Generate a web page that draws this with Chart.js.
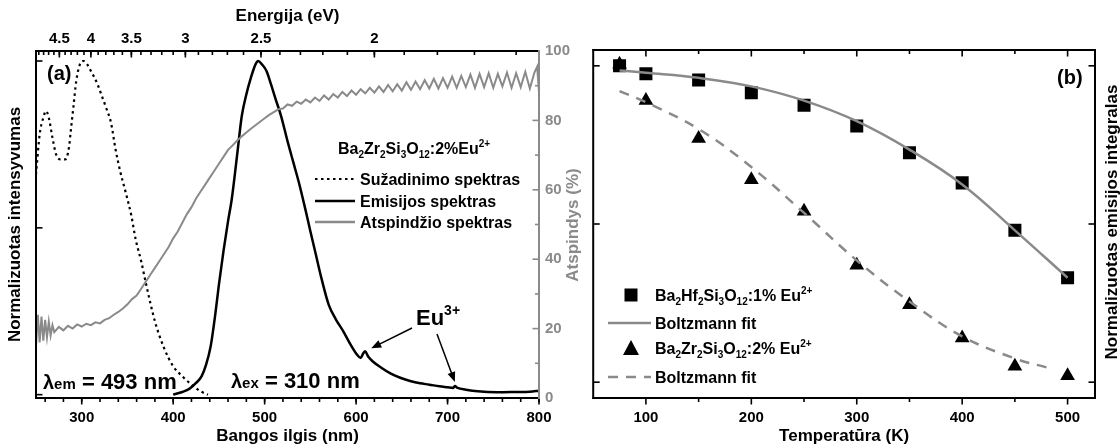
<!DOCTYPE html>
<html>
<head>
<meta charset="utf-8">
<script src="https://cdn.jsdelivr.net/npm/chart.js@4.4.1/dist/chart.umd.min.js"></script>
<style>
  body { margin: 0; background: #fff; }
  #wrap { position: relative; width: 1120px; height: 448px; }
  canvas { position: absolute; top: 0; }
  #spectra { left: 0; }
  #quench { left: 584px; }
</style>
</head>
<body>
<div id="wrap">
  <canvas id="spectra" width="584" height="448"></canvas>
  <canvas id="quench" width="536" height="448"></canvas>
</div>
<script>
// (a) sužadinimo / emisijos / atspindžio spektrai
const excWl = [250, 254, 258, 261, 264, 268, 272, 277, 282, 286, 288, 291, 294, 298, 302, 306, 310, 314, 318, 322, 326, 332, 337, 342, 348, 354, 359, 365, 370, 380, 390, 400, 410, 420, 430, 438];
const excInt = [0.66, 0.78, 0.83, 0.85, 0.83, 0.77, 0.72, 0.705, 0.705, 0.74, 0.79, 0.865, 0.94, 0.99, 1.0, 0.99, 0.97, 0.95, 0.925, 0.895, 0.865, 0.815, 0.735, 0.67, 0.607, 0.54, 0.465, 0.4, 0.336, 0.22, 0.14, 0.085, 0.055, 0.03, 0.01, 0.0];

const emWl = [400, 410, 418, 425, 431, 436, 441, 446, 450, 455, 460, 464, 470, 475, 480, 485, 490, 493, 497, 502, 507, 512, 518, 525, 532, 538, 545, 550, 556, 562, 570, 578, 586, 594, 601, 605, 608, 610, 613, 618, 628, 638, 649, 660, 670, 680, 691, 700, 706, 708, 711, 720, 733, 754, 775, 790, 800];
const emInt = [0.0, 0.008, 0.018, 0.035, 0.055, 0.09, 0.145, 0.24, 0.33, 0.43, 0.52, 0.585, 0.72, 0.835, 0.9, 0.95, 0.99, 1.0, 0.99, 0.97, 0.93, 0.886, 0.835, 0.76, 0.69, 0.63, 0.55, 0.49, 0.42, 0.35, 0.27, 0.225, 0.19, 0.15, 0.12, 0.11, 0.125, 0.13, 0.115, 0.1, 0.08, 0.063, 0.05, 0.04, 0.034, 0.03, 0.025, 0.022, 0.02, 0.026, 0.02, 0.015, 0.01, 0.007, 0.008, 0.009, 0.012];

const reflWl = [250, 252, 254, 256, 258, 260, 262, 264, 266, 268, 270, 275, 280, 285, 290, 295, 300, 305, 310, 315, 320, 325, 330, 335, 340, 345, 350, 355, 360, 365, 370, 375, 380, 385, 390, 395, 400, 405, 410, 415, 420, 425, 430, 435, 440, 445, 450, 455, 460, 465, 470, 475, 480, 485, 490, 495, 500, 505, 510, 515, 520, 525, 530, 535, 540, 545, 550, 555, 560, 565, 570, 575, 580, 585, 590, 595, 600, 605, 610, 615, 620, 625, 630, 635, 640, 645, 650, 655, 660, 665, 670, 675, 680, 685, 690, 695, 700, 705, 710, 715, 720, 725, 730, 735, 740, 745, 750, 755, 760, 765, 770, 775, 780, 785, 790, 795, 798, 800];
const reflVal = [15, 24, 16, 23.5, 16.5, 22.5, 17.5, 22, 18, 21, 19, 20.5, 19.5, 20.8, 20, 21.2, 20.6, 21.4, 21, 21.8, 21.5, 22.5, 23, 24, 24.8, 25.8, 27, 28.5, 29.5, 31.5, 33.5, 35.5, 37.5, 39.5, 41.5, 43.5, 46, 48, 50.5, 53, 55, 57.5, 59.5, 61.5, 63.5, 65.5, 67.5, 69.5, 71.5, 72.8, 74.2, 75.4, 76.5, 77.6, 78.6, 79.6, 80.6, 81.6, 82.4, 83.2, 83.4, 84.6, 84.2, 85.4, 84.8, 86, 85.2, 86.6, 85.6, 87.2, 86, 87.6, 86.6, 88.2, 87, 88.6, 87.4, 89, 87.8, 89.4, 88, 89.8, 88.2, 90.2, 88.4, 90.4, 88.6, 91, 88.8, 91.2, 89, 91.6, 89.2, 92, 89.2, 92.2, 89.4, 92.6, 89.4, 92.8, 89.6, 93.2, 89.4, 93.4, 89.6, 93.6, 89.4, 93.4, 89.8, 93.8, 89.4, 93.6, 89.6, 94, 89.2, 93.8, 95.5, 88];

const wlLabels = [300, 400, 500, 600, 700, 800];
const energyLabels = [4.5, 4, 3.5, 3, 2.5, 2];
const reflLabels = [0, 20, 40, 60, 80, 100];

// (b) integralinės emisijos priklausomybė nuo temperatūros
const temps = [75, 100, 150, 200, 250, 300, 350, 400, 450, 500];
const hfVals = [1.0, 0.975, 0.955, 0.915, 0.875, 0.81, 0.725, 0.63, 0.48, 0.33];
const zrVals = [1.005, 0.89, 0.77, 0.64, 0.54, 0.37, 0.245, 0.14, 0.05, 0.02];
const hfFitT = [75, 100, 150, 200, 250, 300, 350, 400, 450, 500];
const hfFit = [0.985, 0.978, 0.962, 0.935, 0.89, 0.825, 0.735, 0.625, 0.48, 0.33];
const zrFitT = [75, 100, 150, 200, 250, 300, 350, 400, 450, 482];
const zrFit = [0.92, 0.885, 0.8, 0.68, 0.535, 0.385, 0.255, 0.145, 0.075, 0.045];
const tempLabels = [100, 200, 300, 400, 500];

const gray = '#8a8a8a';
const FONT = '"Liberation Sans", Arial, sans-serif';
Chart.defaults.font.family = FONT;
Chart.defaults.font.weight = 'bold';
Chart.defaults.color = '#000';

function pts(xs, ys) {
  return xs.map((x, i) => ({ x, y: ys[i] }));
}

function text(ctx, s, x, base, size, color) {
  ctx.font = `bold ${size}px ${FONT}`;
  ctx.fillStyle = color || '#000';
  ctx.textAlign = 'left';
  ctx.textBaseline = 'alphabetic';
  ctx.fillText(s, x, base);
  return x + ctx.measureText(s).width;
}

// "Ba_2Zr_2Si_3O_{12}" -> apatinis / viršutinis indeksas
function rich(ctx, str, x, base, size, color) {
  const re = /([_^])(\{[^}]*\}|.)|([^_^]+)/g;
  let m, cx = x;
  while ((m = re.exec(str))) {
    if (m[3]) {
      cx = text(ctx, m[3], cx, base, size, color);
    } else {
      const dy = m[1] === '_' ? size * 0.28 : -size * 0.45;
      cx = text(ctx, m[2].replace(/[{}]/g, ''), cx, base + dy, Math.round(size * 0.62), color);
    }
  }
  return cx;
}

function vtext(ctx, s, cx, cy, size, color) {
  ctx.save();
  ctx.translate(cx, cy);
  ctx.rotate(-Math.PI / 2);
  ctx.font = `bold ${size}px ${FONT}`;
  ctx.fillStyle = color || '#000';
  ctx.textAlign = 'center';
  ctx.textBaseline = 'middle';
  ctx.fillText(s, 0, 0);
  ctx.restore();
}

function arrow(ctx, x1, y1, x2, y2) {
  const a = Math.atan2(y2 - y1, x2 - x1);
  ctx.strokeStyle = '#000';
  ctx.fillStyle = '#000';
  ctx.lineWidth = 1.5;
  ctx.beginPath();
  ctx.moveTo(x1, y1);
  ctx.lineTo(x2 - 7 * Math.cos(a), y2 - 7 * Math.sin(a));
  ctx.stroke();
  ctx.beginPath();
  ctx.moveTo(x2, y2);
  ctx.lineTo(x2 - 10 * Math.cos(a) + 4 * Math.sin(a), y2 - 10 * Math.sin(a) - 4 * Math.cos(a));
  ctx.lineTo(x2 - 10 * Math.cos(a) - 4 * Math.sin(a), y2 - 10 * Math.sin(a) + 4 * Math.cos(a));
  ctx.closePath();
  ctx.fill();
}

// rėmelis ir padalos (į vidų arba į išorę)
function framePlugin(sides, ticks) {
  return {
    id: 'frame',
    afterDatasetsDraw(chart) {
      const ctx = chart.ctx, a = chart.chartArea;
      ctx.save();
      ctx.lineWidth = 1.6;
      ticks.forEach(t => {
        const s = chart.scales[t.scale];
        ctx.strokeStyle = t.color || '#000';
        const draw = (v, len) => {
          const p = s.getPixelForValue(v);
          const d = t.out ? len : -len;
          ctx.beginPath();
          if (t.edge === 'bottom') { ctx.moveTo(p, a.bottom); ctx.lineTo(p, a.bottom + d); }
          if (t.edge === 'top') { ctx.moveTo(p, a.top); ctx.lineTo(p, a.top - d); }
          if (t.edge === 'left') { ctx.moveTo(a.left, p); ctx.lineTo(a.left - d, p); }
          if (t.edge === 'right') { ctx.moveTo(a.right, p); ctx.lineTo(a.right + d, p); }
          ctx.stroke();
        };
        (t.minor || []).forEach(v => draw(v, 4));
        t.major.forEach(v => draw(v, 6.5));
      });
      ctx.lineWidth = 2;
      ctx.lineCap = 'square';
      const lines = {
        left: [a.left, a.top, a.left, a.bottom],
        top: [a.left, a.top, a.right, a.top],
        bottom: [a.left, a.bottom, a.right, a.bottom],
        right: [a.right, a.top, a.right, a.bottom]
      };
      Object.keys(lines).forEach(k => {
        const l = lines[k];
        ctx.strokeStyle = sides[k];
        ctx.beginPath();
        ctx.moveTo(l[0], l[1]);
        ctx.lineTo(l[2], l[3]);
        ctx.stroke();
      });
      ctx.restore();
    }
  };
}

// ---------- (a) ----------
const wlMinor = [], eMinor = [], reflMinor = [];
for (let v = 260; v <= 800; v += 20) wlMinor.push(v);
for (let k = 16; k <= 49; k++) eMinor.push(1240 / (k / 10));
for (let v = 10; v <= 90; v += 20) reflMinor.push(v);

const annotA = {
  id: 'annotA',
  afterDraw(chart) {
    const ctx = chart.ctx, xs = chart.scales.x, ys = chart.scales.y;
    ctx.save();
    text(ctx, '(a)', 47, 80, 20);

    rich(ctx, 'Ba_2Zr_2Si_3O_{12}:2%Eu^{2+}', 338, 154, 16);
    const rows = [
      ['Sužadinimo spektras', '#000', [2.5, 3.5], 2.2],
      ['Emisijos spektras', '#000', [], 2.5],
      ['Atspindžio spektras', gray, [], 2.5]
    ];
    const rowY = [179, 201, 222];
    rows.forEach((r, i) => {
      ctx.strokeStyle = r[1];
      ctx.setLineDash(r[2]);
      ctx.lineWidth = r[3];
      ctx.beginPath();
      ctx.moveTo(315, rowY[i]);
      ctx.lineTo(355, rowY[i]);
      ctx.stroke();
      ctx.setLineDash([]);
      text(ctx, r[0], 360, rowY[i] + 6, 16);
    });

    let cx = text(ctx, 'λ', 43, 389, 20);
    cx = text(ctx, 'em', cx, 389, 15);
    text(ctx, ' = 493 nm', cx, 389, 22);
    cx = text(ctx, 'λ', 231, 388, 20);
    cx = text(ctx, 'ex', cx, 388, 15);
    text(ctx, ' = 310 nm', cx, 388, 22);

    rich(ctx, 'Eu^{3+}', 416, 325, 22);
    arrow(ctx, 412, 328, xs.getPixelForValue(610) + 6, ys.getPixelForValue(0.13) - 3);
    arrow(ctx, 437, 334, xs.getPixelForValue(708), ys.getPixelForValue(0.026) - 4);

    vtext(ctx, 'Atspindys (%)', 573, 225, 17, gray);
    ctx.restore();
  }
};

new Chart(document.getElementById('spectra'), {
  type: 'line',
  data: {
    datasets: [
      { label: 'Atspindžio spektras', data: pts(reflWl, reflVal), yAxisID: 'y2', borderColor: gray, borderWidth: 2, pointRadius: 0, tension: 0 },
      { label: 'Sužadinimo spektras', data: pts(excWl, excInt), yAxisID: 'y', borderColor: '#000', borderWidth: 2.2, borderDash: [2.5, 3.5], pointRadius: 0, cubicInterpolationMode: 'monotone' },
      { label: 'Emisijos spektras', data: pts(emWl, emInt), yAxisID: 'y', borderColor: '#000', borderWidth: 2.5, pointRadius: 0, cubicInterpolationMode: 'monotone' }
    ]
  },
  options: {
    responsive: false,
    animation: false,
    devicePixelRatio: 1,
    layout: { padding: 0 },
    plugins: { legend: { display: false }, tooltip: { enabled: false } },
    scales: {
      x: {
        type: 'linear', position: 'bottom', min: 250, max: 800,
        afterBuildTicks: s => { s.ticks = wlLabels.map(v => ({ value: v })); },
        ticks: { font: { size: 15, weight: 'bold' }, padding: 11, maxRotation: 0, autoSkip: false },
        grid: { display: false, drawTicks: false },
        border: { display: false },
        title: { display: true, text: 'Bangos ilgis (nm)', font: { size: 17, weight: 'bold' }, padding: { top: 0, bottom: 1 } },
        afterFit: s => { s.height = 50; }
      },
      xTop: {
        type: 'linear', position: 'top', min: 250, max: 800,
        afterBuildTicks: s => { s.ticks = energyLabels.map(e => ({ value: 1240 / e })); },
        ticks: { font: { size: 15, weight: 'bold' }, padding: 3, maxRotation: 0, autoSkip: false,
                 callback: v => String(+(1240 / v).toFixed(1)) },
        grid: { display: false, drawTicks: false },
        border: { display: false },
        title: { display: true, text: 'Energija (eV)', font: { size: 17, weight: 'bold' }, padding: { top: 6, bottom: 0 } },
        afterFit: s => { s.height = 51; }
      },
      y: {
        position: 'left', min: -0.01, max: 1.03,
        ticks: { display: false },
        grid: { display: false, drawTicks: false },
        border: { display: false },
        title: { display: true, text: 'Normalizuotas intensyvumas', font: { size: 17, weight: 'bold' }, padding: { top: 5, bottom: 0 } },
        afterFit: s => { s.width = 36; }
      },
      y2: {
        position: 'right', min: 0, max: 100,
        afterBuildTicks: s => { s.ticks = reflLabels.map(v => ({ value: v })); },
        ticks: { color: gray, font: { size: 15, weight: 'bold' }, padding: 6 },
        grid: { display: false, drawTicks: false },
        border: { display: false },
        afterFit: s => { s.width = 45; }
      }
    }
  },
  plugins: [
    framePlugin({ left: '#000', top: '#000', bottom: '#000', right: gray }, [
      { scale: 'x', edge: 'bottom', out: true, minor: wlMinor, major: wlLabels },
      { scale: 'xTop', edge: 'top', out: false, minor: eMinor, major: energyLabels.map(e => 1240 / e) },
      { scale: 'y', edge: 'left', out: false, major: [0, 0.5, 1] },
      { scale: 'y2', edge: 'right', out: false, color: gray, minor: reflMinor, major: reflLabels }
    ]),
    annotA
  ]
});

// ---------- (b) ----------
const tempMinor = [150, 250, 350, 450];

const annotB = {
  id: 'annotB',
  afterDraw(chart) {
    const ctx = chart.ctx;
    ctx.save();
    text(ctx, '(b)', 473, 84, 20);

    ctx.fillStyle = '#000';
    ctx.fillRect(47 - 6.5, 295 - 6.5, 13, 13);
    rich(ctx, 'Ba_2Hf_2Si_3O_{12}:1% Eu^{2+}', 71, 301, 16);

    ctx.strokeStyle = gray;
    ctx.lineWidth = 2.5;
    ctx.beginPath();
    ctx.moveTo(24, 323);
    ctx.lineTo(67, 323);
    ctx.stroke();
    text(ctx, 'Boltzmann fit', 71, 329, 16);

    ctx.fillStyle = '#000';
    ctx.beginPath();
    ctx.moveTo(47, 340);
    ctx.lineTo(55, 355);
    ctx.lineTo(39, 355);
    ctx.closePath();
    ctx.fill();
    rich(ctx, 'Ba_2Zr_2Si_3O_{12}:2% Eu^{2+}', 71, 354, 16);

    ctx.setLineDash([10, 8]);
    ctx.beginPath();
    ctx.moveTo(24, 377);
    ctx.lineTo(67, 377);
    ctx.stroke();
    ctx.setLineDash([]);
    text(ctx, 'Boltzmann fit', 71, 383, 16);

    vtext(ctx, 'Normalizuotas emisijos integralas', 528, 222, 17);
    ctx.restore();
  }
};

new Chart(document.getElementById('quench'), {
  type: 'line',
  data: {
    datasets: [
      { label: 'Boltzmann fit', data: pts(hfFitT, hfFit), borderColor: gray, borderWidth: 2.5, pointRadius: 0, tension: 0.4 },
      { label: 'Boltzmann fit', data: pts(zrFitT, zrFit), borderColor: gray, borderWidth: 2.5, borderDash: [10, 8], pointRadius: 0, tension: 0.4 },
      { label: 'Ba2Hf2Si3O12:1% Eu2+', data: pts(temps, hfVals), showLine: false, pointStyle: 'rect', pointRadius: 9.2, backgroundColor: '#000', borderColor: '#000', borderWidth: 0 },
      { label: 'Ba2Zr2Si3O12:2% Eu2+', data: pts(temps, zrVals), showLine: false, pointStyle: 'triangle', pointRadius: 8.5, backgroundColor: '#000', borderColor: '#000', borderWidth: 0 }
    ]
  },
  options: {
    responsive: false,
    animation: false,
    devicePixelRatio: 1,
    layout: { padding: { left: 7, right: 25, top: 50, bottom: 0 } },
    plugins: { legend: { display: false }, tooltip: { enabled: false } },
    scales: {
      x: {
        type: 'linear', position: 'bottom', min: 50, max: 526,
        afterBuildTicks: s => { s.ticks = tempLabels.map(v => ({ value: v })); },
        ticks: { font: { size: 15, weight: 'bold' }, padding: 11, maxRotation: 0, autoSkip: false },
        grid: { display: false, drawTicks: false },
        border: { display: false },
        title: { display: true, text: 'Temperatūra (K)', font: { size: 17, weight: 'bold' }, padding: { top: 0, bottom: 1 } },
        afterFit: s => { s.height = 50; }
      },
      y: { display: false, min: -0.05, max: 1.05 }
    }
  },
  plugins: [
    framePlugin({ left: '#000', top: '#000', bottom: '#000', right: '#000' }, [
      { scale: 'x', edge: 'bottom', out: true, minor: tempMinor, major: tempLabels },
      { scale: 'x', edge: 'top', out: false, minor: tempMinor, major: tempLabels },
      { scale: 'y', edge: 'left', out: false, major: [0, 0.5, 1] },
      { scale: 'y', edge: 'right', out: false, major: [0, 0.5, 1] }
    ]),
    annotB
  ]
});
</script>
</body>
</html>
